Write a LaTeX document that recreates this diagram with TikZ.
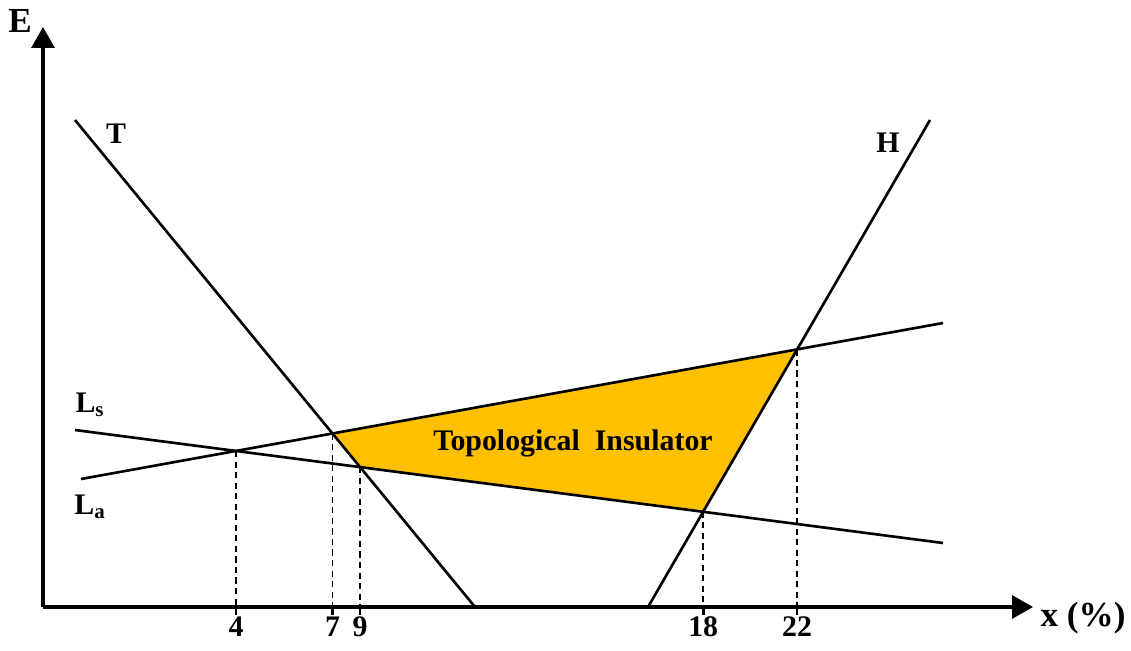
\documentclass[tikz,border=0pt]{standalone}
\usepackage{fontspec}
\setmainfont{Liberation Serif}
\usetikzlibrary{arrows.meta}
\definecolor{tiorange}{RGB}{255,192,0}

\begin{document}
\begin{tikzpicture}[x=0.02cm,y=-0.02cm,>={Triangle[length=0.42cm,width=0.46cm]},
  line/.style={line width=1.5pt},
  guide/.style={line width=0.9pt, dash pattern=on 3.5pt off 2.5pt},
  lbl/.style={font=\bfseries\fontsize{17}{20}\selectfont},
  big/.style={font=\bfseries\fontsize{20}{24}\selectfont}]
  \useasboundingbox (0,0) rectangle (1131,651);
  % axes
  \coordinate (o) at (43,607);
  \coordinate (ytop) at (43,27);
  \coordinate (xend) at (1033,607);
  \coordinate (tickrow) at (0,627);
  \draw[->, line width=1.8pt] (o) -- (ytop);
  \draw[->, line width=1.8pt] (o) -- (xend);
  \node[big] (E) at (20,21) {E};
  \node[big] (xlab) at (1083,618) {x (\%)};
  % the four lines
  \coordinate (t1) at (75,120);  \coordinate (t2) at (475,607);
  \coordinate (h1) at (648,607); \coordinate (h2) at (930,120);
  \coordinate (s1) at (75,430);  \coordinate (s2) at (943,543);
  \coordinate (a1) at (81,479);  \coordinate (a2) at (943,323);
  \coordinate (p4)  at (intersection of s1--s2 and a1--a2);
  \coordinate (p7)  at (intersection of t1--t2 and a1--a2);
  \coordinate (p9)  at (intersection of t1--t2 and s1--s2);
  \coordinate (p18) at (intersection of h1--h2 and s1--s2);
  \coordinate (p22) at (intersection of h1--h2 and a1--a2);
  \fill[tiorange] (p7) -- (p9) -- (p18) -- (p22) -- cycle;
  \draw[line] (t1) -- (t2);
  \draw[line] (h1) -- (h2);
  \draw[line] (s1) -- (s2);
  \draw[line] (a1) -- (a2);
  \node[lbl] (T) at (116,134) {T};
  \node[lbl] (H) at (888,143) {H};
  \node[lbl] (Ls) at (90,405) {L\textsubscript{s}};
  \node[lbl] (La) at (90,507) {L\textsubscript{a}};
  \node[lbl] (ti) at (573,443) {Topological\ \ Insulator};
  % guides down to the x axis
  \foreach \p/\v in {p4/4, p7/7, p9/9, p18/18, p22/22} {
    \draw[guide] (\p) -- (\p |- o);
    \draw[line] (\p |- o) -- ++(0,8);
    \node[lbl] (n\v) at (\p |- tickrow) {\v};
  }
\end{tikzpicture}
\end{document}
